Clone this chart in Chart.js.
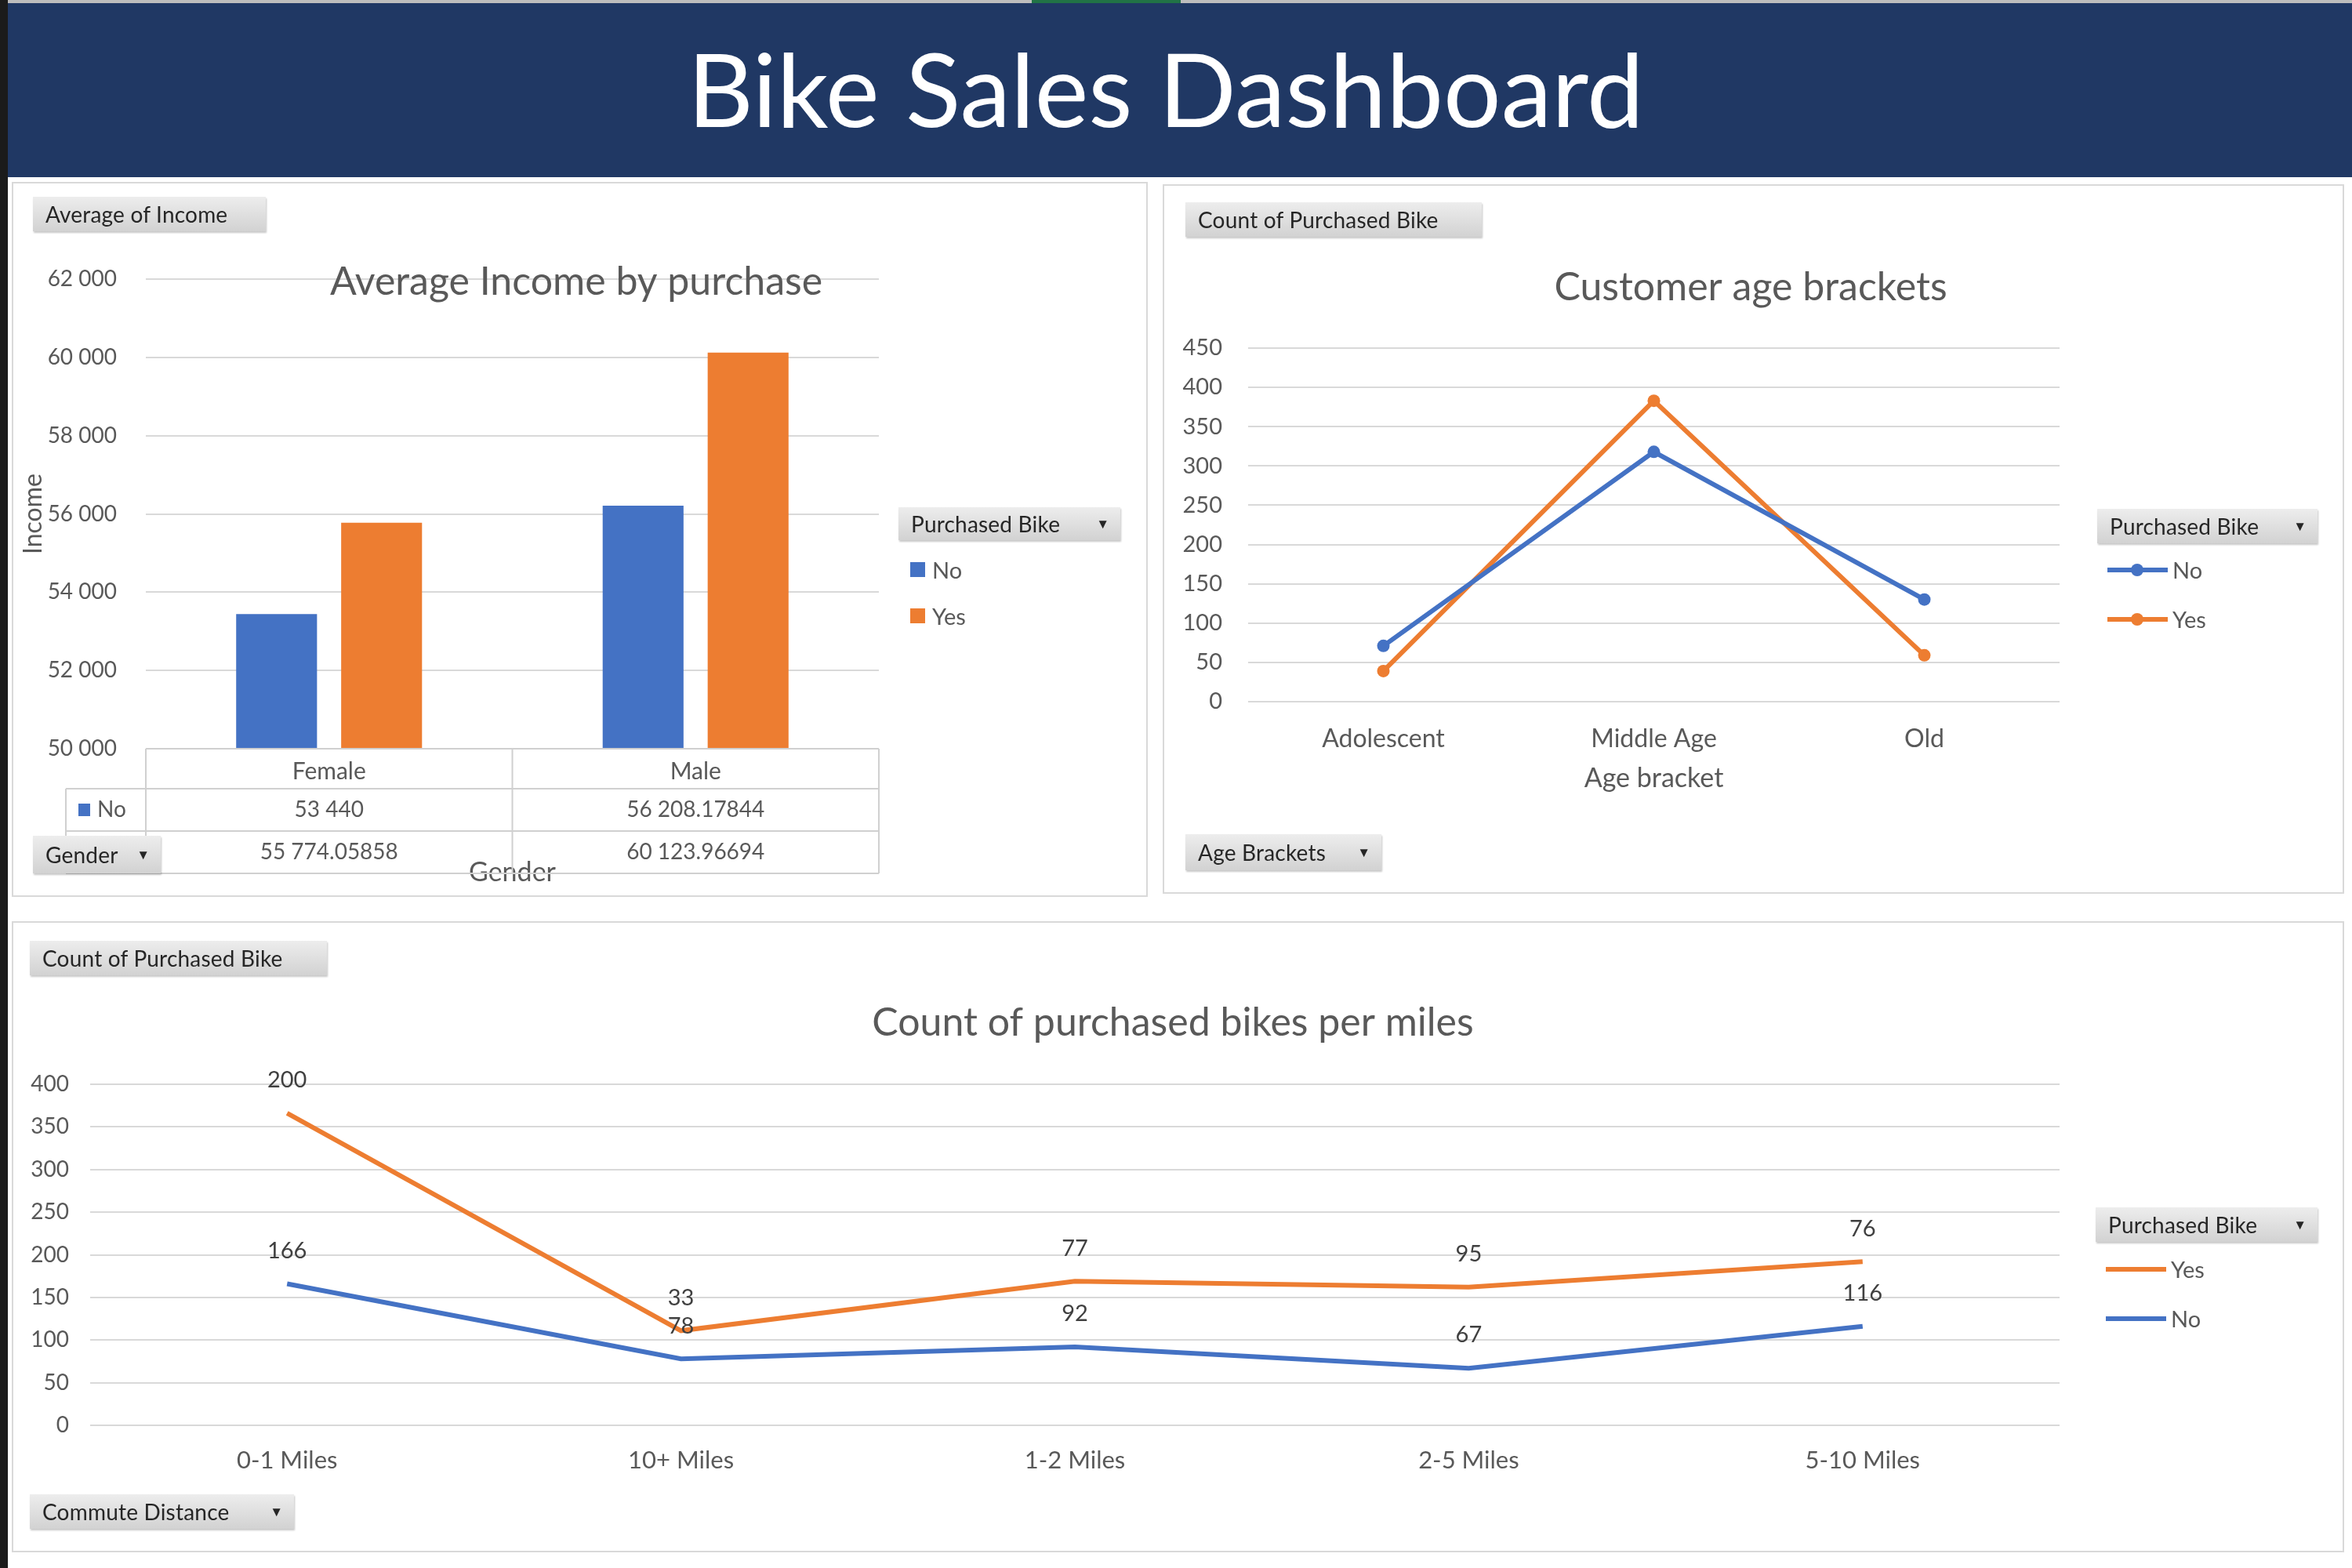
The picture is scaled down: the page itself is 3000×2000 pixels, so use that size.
<!DOCTYPE html>
<html>
<head>
<meta charset="utf-8">
<script src="https://cdn.jsdelivr.net/npm/chart.js@4.4.1/dist/chart.umd.min.js"></script>
<style>
body { margin: 0; width: 3000px; height: 2000px; background: #fff; position: relative; overflow: hidden; font-family: Lato, "Open Sans", sans-serif; }
.abs { position: absolute; }
#topline { left: 0; top: 0; width: 3000px; height: 4px; background: #bdbdbd; }
#green { left: 1316px; top: 0; width: 190px; height: 4px; background: #217346; }
#leftbar { left: 0; top: 0; width: 10px; height: 2000px; background: #1b1b1b; }
#header { left: 10px; top: 4px; width: 2990px; height: 222px; background: #203864; }
#mainTitle { color: #fff; white-space: nowrap; line-height: 1; }
.panel { position: absolute; box-sizing: border-box; border: 2px solid #d9d9d9; background: #fff; }
canvas { position: absolute; }
.btn { position: absolute; box-sizing: border-box; background: linear-gradient(#ededed, #d2d2d2); box-shadow: 1px 2px 2px rgba(0,0,0,0.22);
       color: #262626; font-size: 28px; letter-spacing: 0.2px; padding-left: 16px; display: flex; align-items: center; white-space: nowrap; }
.btn .arr { position: absolute; right: 14px; font-size: 17px; letter-spacing: 0; }
.legend { position: absolute; color: #595959; font-size: 29px; }
.legend .item { display: flex; align-items: center; white-space: nowrap; }
.legend .sq { width: 19px; height: 19px; margin-right: 9px; background: var(--c); }
.legend .ln { width: 77px; height: 6px; margin-right: 6px; background: var(--c); position: relative; }
.legend .ln.dot::after { content: ""; position: absolute; left: 30px; top: -5px; width: 16px; height: 16px; border-radius: 50%; background: var(--c); }
</style>
</head>
<body>
<div id="topline" class="abs"></div>
<div id="green" class="abs"></div>
<div id="leftbar" class="abs"></div>
<div id="header" class="abs"><div id="mainTitle" class="abs">Bike Sales Dashboard</div></div>

<div class="panel" style="left:15px;top:232px;width:1449px;height:912px"></div>
<div class="panel" style="left:1483px;top:235px;width:1507px;height:905px"></div>
<div class="panel" style="left:15px;top:1175px;width:2975px;height:805px"></div>

<canvas id="income" width="1449" height="912" style="left:15px;top:232px"></canvas>
<canvas id="ages" width="1507" height="905" style="left:1483px;top:235px"></canvas>
<canvas id="commute" width="2975" height="805" style="left:15px;top:1175px"></canvas>

<div class="btn" style="left:42px;top:251px;width:297px;height:44px">Average of Income</div>
<div class="btn" style="left:1146px;top:647px;width:283px;height:42px">Purchased Bike<span class="arr">▼</span></div>
<div class="legend" id="legIncome" style="left:1161px;top:697px"></div>
<div class="btn" style="left:42px;top:1066px;width:163px;height:48px">Gender<span class="arr">▼</span></div>

<div class="btn" style="left:1512px;top:258px;width:378px;height:44px">Count of Purchased Bike</div>
<div class="btn" style="left:2675px;top:649px;width:281px;height:44px">Purchased Bike<span class="arr">▼</span></div>
<div class="legend" id="legAges" style="left:2688px;top:695px"></div>
<div class="btn" style="left:1512px;top:1064px;width:250px;height:46px">Age Brackets<span class="arr">▼</span></div>

<div class="btn" style="left:38px;top:1200px;width:379px;height:44px">Count of Purchased Bike</div>
<div class="btn" style="left:2673px;top:1540px;width:283px;height:44px">Purchased Bike<span class="arr">▼</span></div>
<div class="legend" id="legCommute" style="left:2686px;top:1587px"></div>
<div class="btn" style="left:38px;top:1906px;width:337px;height:44px">Commute Distance<span class="arr">▼</span></div>

<script>
// data
const genders = ['Female', 'Male'];
const incomeNo = [53440, 56208.17844];
const incomeYes = [55774.05858, 60123.96694];

const ageBrackets = ['Adolescent', 'Middle Age', 'Old'];
const ageNo = [71, 318, 130];
const ageYes = [39, 383, 59];

const commuteDistances = ['0-1 Miles', '10+ Miles', '1-2 Miles', '2-5 Miles', '5-10 Miles'];
const commuteNo = [166, 78, 92, 67, 116];
const commuteYes = [200, 33, 77, 95, 76];

const BLUE = '#4472C4', ORANGE = '#ED7D31', GRID = '#D9D9D9', TEXT = '#595959';

// header title, sized to the reference width
(function () {
    const el = document.getElementById('mainTitle');
    const c = document.createElement('canvas').getContext('2d');
    c.font = '100px Lato';
    const w = 1220;
    const size = 100 * w / c.measureText(el.textContent).width;
    el.style.fontSize = size + 'px';
    el.style.left = (1487 - 10 - w / 2) + 'px';
    el.style.top = (163 - 4 - 0.887 * size) + 'px';
})();

function fmt(v) {
    const parts = String(v).split('.');
    return parts[0].replace(/\B(?=(\d{3})+(?!\d))/g, ' ') + (parts[1] ? '.' + parts[1] : '');
}

Chart.defaults.font.family = 'Lato, "Open Sans", sans-serif';
Chart.defaults.color = TEXT;
Chart.defaults.animation = false;
Chart.defaults.plugins.legend.display = false;
Chart.defaults.plugins.tooltip.enabled = false;

function panelTitle(text, x, y, size) {
    return {
        id: 'panelTitle',
        afterDraw(chart) {
            const ctx = chart.ctx;
            ctx.save();
            ctx.font = size + 'px Lato';
            ctx.fillStyle = TEXT;
            ctx.textAlign = 'center';
            ctx.textBaseline = 'middle';
            ctx.fillText(text, x, y);
            ctx.restore();
        }
    };
}

// data table under the income bars
const incomeTable = {
    id: 'incomeTable',
    afterDraw(chart) {
        const {ctx, chartArea: a, scales: {x}} = chart;
        const rows = [a.bottom, a.bottom + 51, a.bottom + 105, a.bottom + 159];
        const keyLeft = 69;
        const mid = (x.getPixelForValue(0) + x.getPixelForValue(1)) / 2;
        ctx.save();
        ctx.strokeStyle = '#D0D0D0';
        ctx.lineWidth = 2;
        ctx.beginPath();
        ctx.moveTo(a.left, rows[0]); ctx.lineTo(a.right, rows[0]);
        for (let i = 1; i < 4; i++) { ctx.moveTo(keyLeft, rows[i]); ctx.lineTo(a.right, rows[i]); }
        [a.left, mid, a.right].forEach(px => { ctx.moveTo(px, rows[0]); ctx.lineTo(px, rows[3]); });
        ctx.moveTo(keyLeft, rows[1]); ctx.lineTo(keyLeft, rows[3]);
        ctx.stroke();
        ctx.font = '28px Lato';
        ctx.textBaseline = 'middle';
        chart.data.datasets.forEach((ds, i) => {
            const cy = (rows[i + 1] + rows[i + 2]) / 2;
            ctx.fillStyle = TEXT;
            ctx.textAlign = 'center';
            ds.data.forEach((v, j) => ctx.fillText(fmt(v), x.getPixelForValue(j), cy));
            ctx.fillStyle = ds.backgroundColor;
            ctx.fillRect(85, cy - 8, 15, 16);
            ctx.fillStyle = TEXT;
            ctx.textAlign = 'left';
            ctx.fillText(ds.label, 109, cy);
        });
        ctx.restore();
    }
};

// value labels above points
const pointLabels = {
    id: 'pointLabels',
    afterDatasetsDraw(chart) {
        const ctx = chart.ctx;
        ctx.save();
        ctx.font = '29px Lato';
        ctx.fillStyle = '#404040';
        ctx.textAlign = 'center';
        ctx.textBaseline = 'middle';
        chart.data.datasets.forEach((ds, i) => {
            chart.getDatasetMeta(i).data.forEach((pt, j) => ctx.fillText(ds.data[j], pt.x, pt.y - 42));
        });
        ctx.restore();
    }
};

function htmlLegend(chart, id, order, kind, gap) {
    const el = document.getElementById(id);
    el.innerHTML = order.map(i => {
        const ds = chart.data.datasets[i];
        const col = ds.borderColor || ds.backgroundColor;
        return '<div class="item" style="height:' + gap + 'px"><span class="' + kind + '" style="--c:' + col + '"></span>' + ds.label + '</div>';
    }).join('');
}

function yGrid() {
    return { color: GRID, lineWidth: 2, drawTicks: false };
}

const incomeChart = new Chart(document.querySelector('canvas#income'), {
    type: 'bar',
    data: {
        labels: genders,
        datasets: [
            { label: 'No', data: incomeNo, backgroundColor: BLUE, categoryPercentage: 0.573, barPercentage: 0.77 },
            { label: 'Yes', data: incomeYes, backgroundColor: ORANGE, categoryPercentage: 0.573, barPercentage: 0.77 }
        ]
    },
    options: {
        responsive: false,
        layout: { padding: { left: 0, right: 343, top: 124, bottom: 0 } },
        scales: {
            x: {
                grid: { display: false, drawTicks: false },
                border: { display: false },
                ticks: { padding: 11, font: { size: 30 } },
                title: { display: true, text: 'Gender', font: { size: 34 }, padding: { top: 0, bottom: 11 } },
                afterFit: s => { s.height = 189; }
            },
            y: {
                min: 50000,
                max: 62000,
                beginAtZero: false,
                grid: yGrid(),
                border: { display: false },
                ticks: { stepSize: 2000, padding: 37, font: { size: 28 }, callback: v => fmt(v) },
                title: { display: true, text: 'Income', font: { size: 32 }, padding: { top: 8 } },
                afterFit: s => { s.width = 171; }
            }
        }
    },
    plugins: [panelTitle('Average Income by purchase', 720, 128, 50), incomeTable]
});
htmlLegend(incomeChart, 'legIncome', [0, 1], 'sq', 59);

const agesChart = new Chart(document.querySelector('canvas#ages'), {
    type: 'line',
    data: {
        labels: ageBrackets,
        datasets: [
            { label: 'No', data: ageNo, borderColor: BLUE, backgroundColor: BLUE, borderWidth: 6, pointRadius: 8, pointBorderWidth: 0 },
            { label: 'Yes', data: ageYes, borderColor: ORANGE, backgroundColor: ORANGE, borderWidth: 6, pointRadius: 8, pointBorderWidth: 0 }
        ]
    },
    options: {
        responsive: false,
        layout: { padding: { left: 0, right: 363, top: 209, bottom: 0 } },
        scales: {
            x: {
                offset: true,
                grid: { display: false, drawTicks: false },
                border: { display: false },
                ticks: { padding: 28, font: { size: 32 } },
                title: { display: true, text: 'Age bracket', font: { size: 34 }, padding: { top: 0, bottom: 127 } },
                afterFit: s => { s.height = 245; }
            },
            y: {
                min: 0,
                max: 450,
                grid: yGrid(),
                border: { display: false },
                ticks: { stepSize: 50, padding: 33, font: { size: 29 } },
                afterFit: s => { s.width = 109; }
            }
        }
    },
    plugins: [panelTitle('Customer age brackets', 750, 132, 50)]
});
htmlLegend(agesChart, 'legAges', [0, 1], 'ln dot', 63);

const commuteChart = new Chart(document.querySelector('canvas#commute'), {
    type: 'line',
    data: {
        labels: commuteDistances,
        datasets: [
            { label: 'No', data: commuteNo, borderColor: BLUE, backgroundColor: BLUE, borderWidth: 6, pointRadius: 0 },
            { label: 'Yes', data: commuteYes, borderColor: ORANGE, backgroundColor: ORANGE, borderWidth: 6, pointRadius: 0 }
        ]
    },
    options: {
        responsive: false,
        layout: { padding: { left: 0, right: 363, top: 208, bottom: 0 } },
        scales: {
            x: {
                offset: true,
                grid: { display: false, drawTicks: false },
                border: { display: false },
                ticks: { padding: 26, font: { size: 31 } },
                afterFit: s => { s.height = 162; }
            },
            y: {
                stacked: true,
                min: 0,
                max: 400,
                grid: yGrid(),
                border: { display: false },
                ticks: { stepSize: 50, padding: 27, font: { size: 28 } },
                afterFit: s => { s.width = 100; }
            }
        }
    },
    plugins: [panelTitle('Count of purchased bikes per miles', 1481, 130, 50), pointLabels]
});
htmlLegend(commuteChart, 'legCommute', [1, 0], 'ln', 63);
</script>
</body>
</html>
